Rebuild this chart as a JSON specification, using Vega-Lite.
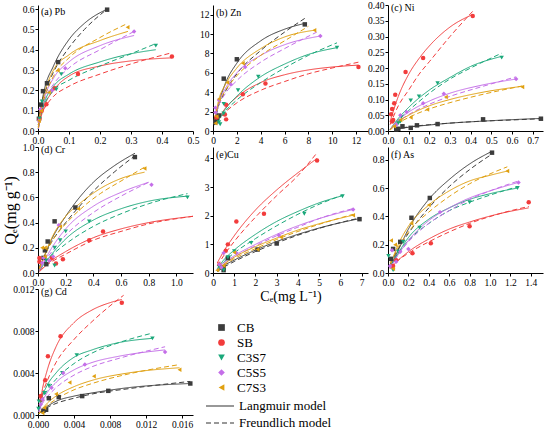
{
  "$schema": "https://vega.github.io/schema/vega-lite/v6.json",
  "padding": {"left": 2, "top": 0, "right": 2, "bottom": 2},
  "background": "white",
  "bounds": "flush",
  "columns": 3,
  "spacing": {"row": 16, "column": 20},
  "config": {
    "view": {"stroke": null},
    "font": "Liberation Serif",
    "axis": {"grid": false, "domainColor": "black", "tickColor": "black", "labelColor": "black", "labelFont": "Liberation Serif", "labelFontSize": 9.5, "tickSize": 3, "labelPadding": 1, "titleFont": "Liberation Serif", "titleFontWeight": "normal", "titleColor": "black", "labelFlush": false, "labelOverlap": false},
    "title": {"font": "Liberation Serif", "fontSize": 10, "fontWeight": "normal", "color": "black", "anchor": "start", "frame": "group", "offset": -13, "dx": 3},
    "legend": {"labelFont": "Liberation Serif", "labelFontSize": 13, "labelColor": "black", "padding": 0, "rowPadding": 2.5}
  },
  "data": {"values": [
    {"p":"a","s":"CB","m":"P","x":0.223,"y":0.597},{"p":"a","s":"CB","m":"P","x":0.065,"y":0.339},{"p":"a","s":"CB","m":"P","x":0.029,"y":0.235},{"p":"a","s":"CB","m":"P","x":0.016,"y":0.196},{"p":"a","s":"CB","m":"P","x":0.01,"y":0.13},{"p":"a","s":"CB","m":"P","x":0.003,"y":0.06},
    {"p":"a","s":"CB","m":"L","x":0.001,"y":0.02},{"p":"a","s":"CB","m":"L","x":0.01,"y":0.12},{"p":"a","s":"CB","m":"L","x":0.02,"y":0.2},{"p":"a","s":"CB","m":"L","x":0.05,"y":0.32},{"p":"a","s":"CB","m":"L","x":0.1,"y":0.45},{"p":"a","s":"CB","m":"L","x":0.15,"y":0.53},{"p":"a","s":"CB","m":"L","x":0.223,"y":0.6},
    {"p":"a","s":"CB","m":"F","x":0.001,"y":0.04},{"p":"a","s":"CB","m":"F","x":0.01,"y":0.13},{"p":"a","s":"CB","m":"F","x":0.02,"y":0.18},{"p":"a","s":"CB","m":"F","x":0.05,"y":0.29},{"p":"a","s":"CB","m":"F","x":0.1,"y":0.41},{"p":"a","s":"CB","m":"F","x":0.15,"y":0.5},{"p":"a","s":"CB","m":"F","x":0.223,"y":0.6},
    {"p":"a","s":"SB","m":"P","x":0.432,"y":0.367},{"p":"a","s":"SB","m":"P","x":0.129,"y":0.281},{"p":"a","s":"SB","m":"P","x":0.054,"y":0.21},{"p":"a","s":"SB","m":"P","x":0.027,"y":0.132},{"p":"a","s":"SB","m":"P","x":0.012,"y":0.1},{"p":"a","s":"SB","m":"P","x":0.005,"y":0.06},
    {"p":"a","s":"SB","m":"L","x":0.001,"y":0.01},{"p":"a","s":"SB","m":"L","x":0.01,"y":0.07},{"p":"a","s":"SB","m":"L","x":0.02,"y":0.12},{"p":"a","s":"SB","m":"L","x":0.05,"y":0.2},{"p":"a","s":"SB","m":"L","x":0.1,"y":0.27},{"p":"a","s":"SB","m":"L","x":0.2,"y":0.32},{"p":"a","s":"SB","m":"L","x":0.3,"y":0.345},{"p":"a","s":"SB","m":"L","x":0.432,"y":0.36},
    {"p":"a","s":"SB","m":"F","x":0.001,"y":0.03},{"p":"a","s":"SB","m":"F","x":0.01,"y":0.08},{"p":"a","s":"SB","m":"F","x":0.02,"y":0.11},{"p":"a","s":"SB","m":"F","x":0.05,"y":0.17},{"p":"a","s":"SB","m":"F","x":0.1,"y":0.22},{"p":"a","s":"SB","m":"F","x":0.2,"y":0.28},{"p":"a","s":"SB","m":"F","x":0.3,"y":0.33},{"p":"a","s":"SB","m":"F","x":0.432,"y":0.385},
    {"p":"a","s":"C3S7","m":"P","x":0.38,"y":0.42},{"p":"a","s":"C3S7","m":"P","x":0.075,"y":0.28},{"p":"a","s":"C3S7","m":"P","x":0.059,"y":0.205},{"p":"a","s":"C3S7","m":"P","x":0.013,"y":0.145},{"p":"a","s":"C3S7","m":"P","x":0.005,"y":0.06},
    {"p":"a","s":"C3S7","m":"L","x":0.001,"y":0.01},{"p":"a","s":"C3S7","m":"L","x":0.01,"y":0.09},{"p":"a","s":"C3S7","m":"L","x":0.02,"y":0.14},{"p":"a","s":"C3S7","m":"L","x":0.05,"y":0.22},{"p":"a","s":"C3S7","m":"L","x":0.1,"y":0.28},{"p":"a","s":"C3S7","m":"L","x":0.2,"y":0.34},{"p":"a","s":"C3S7","m":"L","x":0.3,"y":0.38},{"p":"a","s":"C3S7","m":"L","x":0.38,"y":0.4},
    {"p":"a","s":"C3S7","m":"F","x":0.001,"y":0.03},{"p":"a","s":"C3S7","m":"F","x":0.01,"y":0.09},{"p":"a","s":"C3S7","m":"F","x":0.02,"y":0.13},{"p":"a","s":"C3S7","m":"F","x":0.05,"y":0.2},{"p":"a","s":"C3S7","m":"F","x":0.1,"y":0.25},{"p":"a","s":"C3S7","m":"F","x":0.2,"y":0.32},{"p":"a","s":"C3S7","m":"F","x":0.3,"y":0.38},{"p":"a","s":"C3S7","m":"F","x":0.38,"y":0.43},
    {"p":"a","s":"C5S5","m":"P","x":0.31,"y":0.49},{"p":"a","s":"C5S5","m":"P","x":0.088,"y":0.309},{"p":"a","s":"C5S5","m":"P","x":0.045,"y":0.2},{"p":"a","s":"C5S5","m":"P","x":0.0075,"y":0.107},{"p":"a","s":"C5S5","m":"P","x":0.003,"y":0.05},
    {"p":"a","s":"C5S5","m":"L","x":0.001,"y":0.01},{"p":"a","s":"C5S5","m":"L","x":0.01,"y":0.1},{"p":"a","s":"C5S5","m":"L","x":0.02,"y":0.16},{"p":"a","s":"C5S5","m":"L","x":0.05,"y":0.26},{"p":"a","s":"C5S5","m":"L","x":0.1,"y":0.34},{"p":"a","s":"C5S5","m":"L","x":0.2,"y":0.42},{"p":"a","s":"C5S5","m":"L","x":0.31,"y":0.47},
    {"p":"a","s":"C5S5","m":"F","x":0.001,"y":0.03},{"p":"a","s":"C5S5","m":"F","x":0.01,"y":0.1},{"p":"a","s":"C5S5","m":"F","x":0.02,"y":0.15},{"p":"a","s":"C5S5","m":"F","x":0.05,"y":0.23},{"p":"a","s":"C5S5","m":"F","x":0.1,"y":0.31},{"p":"a","s":"C5S5","m":"F","x":0.2,"y":0.4},{"p":"a","s":"C5S5","m":"F","x":0.31,"y":0.49},
    {"p":"a","s":"C7S3","m":"P","x":0.289,"y":0.511},{"p":"a","s":"C7S3","m":"P","x":0.064,"y":0.298},{"p":"a","s":"C7S3","m":"P","x":0.035,"y":0.19},{"p":"a","s":"C7S3","m":"P","x":0.01,"y":0.1},{"p":"a","s":"C7S3","m":"P","x":0.003,"y":0.05},
    {"p":"a","s":"C7S3","m":"L","x":0.001,"y":0.015},{"p":"a","s":"C7S3","m":"L","x":0.01,"y":0.11},{"p":"a","s":"C7S3","m":"L","x":0.02,"y":0.18},{"p":"a","s":"C7S3","m":"L","x":0.05,"y":0.3},{"p":"a","s":"C7S3","m":"L","x":0.1,"y":0.375},{"p":"a","s":"C7S3","m":"L","x":0.2,"y":0.445},{"p":"a","s":"C7S3","m":"L","x":0.29,"y":0.49},
    {"p":"a","s":"C7S3","m":"F","x":0.001,"y":0.03},{"p":"a","s":"C7S3","m":"F","x":0.01,"y":0.11},{"p":"a","s":"C7S3","m":"F","x":0.02,"y":0.16},{"p":"a","s":"C7S3","m":"F","x":0.05,"y":0.27},{"p":"a","s":"C7S3","m":"F","x":0.1,"y":0.36},{"p":"a","s":"C7S3","m":"F","x":0.2,"y":0.46},{"p":"a","s":"C7S3","m":"F","x":0.29,"y":0.53},

    {"p":"b","s":"CB","m":"P","x":7.7,"y":11.0},{"p":"b","s":"CB","m":"P","x":2.0,"y":7.4},{"p":"b","s":"CB","m":"P","x":0.9,"y":5.4},{"p":"b","s":"CB","m":"P","x":0.5,"y":1.6},{"p":"b","s":"CB","m":"P","x":0.3,"y":1.2},{"p":"b","s":"CB","m":"P","x":0.2,"y":0.9},
    {"p":"b","s":"CB","m":"L","x":0.1,"y":0.6},{"p":"b","s":"CB","m":"L","x":0.5,"y":2.9},{"p":"b","s":"CB","m":"L","x":1,"y":4.8},{"p":"b","s":"CB","m":"L","x":2,"y":7.0},{"p":"b","s":"CB","m":"L","x":4,"y":9.3},{"p":"b","s":"CB","m":"L","x":6,"y":10.5},{"p":"b","s":"CB","m":"L","x":7.7,"y":11.1},
    {"p":"b","s":"CB","m":"F","x":0.1,"y":1.0},{"p":"b","s":"CB","m":"F","x":0.5,"y":2.7},{"p":"b","s":"CB","m":"F","x":1,"y":4.0},{"p":"b","s":"CB","m":"F","x":2,"y":5.9},{"p":"b","s":"CB","m":"F","x":4,"y":8.3},{"p":"b","s":"CB","m":"F","x":6,"y":10.2},{"p":"b","s":"CB","m":"F","x":7.8,"y":11.7},
    {"p":"b","s":"SB","m":"P","x":12.2,"y":6.6},{"p":"b","s":"SB","m":"P","x":4.4,"y":4.9},{"p":"b","s":"SB","m":"P","x":2.5,"y":3.8},{"p":"b","s":"SB","m":"P","x":1.1,"y":2.7},{"p":"b","s":"SB","m":"P","x":1.0,"y":1.7},{"p":"b","s":"SB","m":"P","x":1.1,"y":1.2},{"p":"b","s":"SB","m":"P","x":0.3,"y":1.4},
    {"p":"b","s":"SB","m":"L","x":0.3,"y":0.9},{"p":"b","s":"SB","m":"L","x":1,"y":2.3},{"p":"b","s":"SB","m":"L","x":2,"y":3.5},{"p":"b","s":"SB","m":"L","x":4,"y":5.0},{"p":"b","s":"SB","m":"L","x":6,"y":5.8},{"p":"b","s":"SB","m":"L","x":8,"y":6.3},{"p":"b","s":"SB","m":"L","x":10,"y":6.6},{"p":"b","s":"SB","m":"L","x":12.2,"y":6.8},
    {"p":"b","s":"SB","m":"F","x":0.3,"y":0.9},{"p":"b","s":"SB","m":"F","x":1,"y":1.9},{"p":"b","s":"SB","m":"F","x":2,"y":2.9},{"p":"b","s":"SB","m":"F","x":4,"y":4.2},{"p":"b","s":"SB","m":"F","x":6,"y":5.1},{"p":"b","s":"SB","m":"F","x":8,"y":5.9},{"p":"b","s":"SB","m":"F","x":10,"y":6.5},{"p":"b","s":"SB","m":"F","x":12.2,"y":7.1},
    {"p":"b","s":"C3S7","m":"P","x":10.4,"y":8.6},{"p":"b","s":"C3S7","m":"P","x":3.8,"y":5.6},{"p":"b","s":"C3S7","m":"P","x":2.1,"y":4.2},{"p":"b","s":"C3S7","m":"P","x":0.9,"y":2.8},{"p":"b","s":"C3S7","m":"P","x":0.9,"y":1.8},{"p":"b","s":"C3S7","m":"P","x":0.6,"y":0.7},{"p":"b","s":"C3S7","m":"P","x":0.5,"y":0.9},
    {"p":"b","s":"C3S7","m":"L","x":0.3,"y":0.8},{"p":"b","s":"C3S7","m":"L","x":1,"y":2.2},{"p":"b","s":"C3S7","m":"L","x":2,"y":3.6},{"p":"b","s":"C3S7","m":"L","x":4,"y":5.6},{"p":"b","s":"C3S7","m":"L","x":6,"y":6.9},{"p":"b","s":"C3S7","m":"L","x":8,"y":7.9},{"p":"b","s":"C3S7","m":"L","x":10.4,"y":8.6},
    {"p":"b","s":"C3S7","m":"F","x":0.3,"y":0.8},{"p":"b","s":"C3S7","m":"F","x":1,"y":2.0},{"p":"b","s":"C3S7","m":"F","x":2,"y":3.2},{"p":"b","s":"C3S7","m":"F","x":4,"y":5.0},{"p":"b","s":"C3S7","m":"F","x":6,"y":6.5},{"p":"b","s":"C3S7","m":"F","x":8,"y":7.8},{"p":"b","s":"C3S7","m":"F","x":10.4,"y":9.1},
    {"p":"b","s":"C5S5","m":"P","x":9.0,"y":9.8},{"p":"b","s":"C5S5","m":"P","x":2.7,"y":6.6},{"p":"b","s":"C5S5","m":"P","x":1.5,"y":4.8},{"p":"b","s":"C5S5","m":"P","x":0.2,"y":2.4},{"p":"b","s":"C5S5","m":"P","x":0.2,"y":1.9},{"p":"b","s":"C5S5","m":"P","x":0.5,"y":3.2},
    {"p":"b","s":"C5S5","m":"L","x":0.1,"y":0.9},{"p":"b","s":"C5S5","m":"L","x":0.5,"y":3.0},{"p":"b","s":"C5S5","m":"L","x":1,"y":4.3},{"p":"b","s":"C5S5","m":"L","x":2,"y":6.0},{"p":"b","s":"C5S5","m":"L","x":4,"y":7.8},{"p":"b","s":"C5S5","m":"L","x":6,"y":8.9},{"p":"b","s":"C5S5","m":"L","x":9,"y":9.8},
    {"p":"b","s":"C5S5","m":"F","x":0.1,"y":1.1},{"p":"b","s":"C5S5","m":"F","x":0.5,"y":2.7},{"p":"b","s":"C5S5","m":"F","x":1,"y":3.8},{"p":"b","s":"C5S5","m":"F","x":2,"y":5.2},{"p":"b","s":"C5S5","m":"F","x":4,"y":7.1},{"p":"b","s":"C5S5","m":"F","x":6,"y":8.5},{"p":"b","s":"C5S5","m":"F","x":8.7,"y":10.2},
    {"p":"b","s":"C7S3","m":"P","x":8.5,"y":10.4},{"p":"b","s":"C7S3","m":"P","x":2.5,"y":7.0},{"p":"b","s":"C7S3","m":"P","x":1.2,"y":5.0},{"p":"b","s":"C7S3","m":"P","x":0.5,"y":3.3},{"p":"b","s":"C7S3","m":"P","x":0.3,"y":1.5},{"p":"b","s":"C7S3","m":"P","x":0.2,"y":0.8},
    {"p":"b","s":"C7S3","m":"L","x":0.1,"y":0.9},{"p":"b","s":"C7S3","m":"L","x":0.5,"y":3.3},{"p":"b","s":"C7S3","m":"L","x":1,"y":4.7},{"p":"b","s":"C7S3","m":"L","x":2,"y":6.5},{"p":"b","s":"C7S3","m":"L","x":4,"y":8.5},{"p":"b","s":"C7S3","m":"L","x":6,"y":9.7},{"p":"b","s":"C7S3","m":"L","x":8.5,"y":10.4},
    {"p":"b","s":"C7S3","m":"F","x":0.1,"y":1.2},{"p":"b","s":"C7S3","m":"F","x":0.5,"y":2.9},{"p":"b","s":"C7S3","m":"F","x":1,"y":4.1},{"p":"b","s":"C7S3","m":"F","x":2,"y":5.7},{"p":"b","s":"C7S3","m":"F","x":4,"y":7.8},{"p":"b","s":"C7S3","m":"F","x":6,"y":9.3},{"p":"b","s":"C7S3","m":"F","x":8,"y":10.8},

    {"p":"c","s":"CB","m":"P","x":0.74,"y":0.039},{"p":"c","s":"CB","m":"P","x":0.46,"y":0.037},{"p":"c","s":"CB","m":"P","x":0.24,"y":0.022},{"p":"c","s":"CB","m":"P","x":0.14,"y":0.018},{"p":"c","s":"CB","m":"P","x":0.11,"y":0.01},{"p":"c","s":"CB","m":"P","x":0.07,"y":0.015},{"p":"c","s":"CB","m":"P","x":0.05,"y":0.007},{"p":"c","s":"CB","m":"P","x":0.04,"y":0.005},
    {"p":"c","s":"CB","m":"L","x":0.03,"y":0.004},{"p":"c","s":"CB","m":"L","x":0.1,"y":0.012},{"p":"c","s":"CB","m":"L","x":0.2,"y":0.019},{"p":"c","s":"CB","m":"L","x":0.3,"y":0.025},{"p":"c","s":"CB","m":"L","x":0.45,"y":0.031},{"p":"c","s":"CB","m":"L","x":0.6,"y":0.036},{"p":"c","s":"CB","m":"L","x":0.74,"y":0.04},
    {"p":"c","s":"CB","m":"F","x":0.03,"y":0.006},{"p":"c","s":"CB","m":"F","x":0.1,"y":0.013},{"p":"c","s":"CB","m":"F","x":0.2,"y":0.02},{"p":"c","s":"CB","m":"F","x":0.3,"y":0.025},{"p":"c","s":"CB","m":"F","x":0.45,"y":0.031},{"p":"c","s":"CB","m":"F","x":0.6,"y":0.035},{"p":"c","s":"CB","m":"F","x":0.74,"y":0.039},
    {"p":"c","s":"SB","m":"P","x":0.41,"y":0.365},{"p":"c","s":"SB","m":"P","x":0.17,"y":0.232},{"p":"c","s":"SB","m":"P","x":0.085,"y":0.187},{"p":"c","s":"SB","m":"P","x":0.035,"y":0.115},{"p":"c","s":"SB","m":"P","x":0.03,"y":0.088},{"p":"c","s":"SB","m":"P","x":0.02,"y":0.07},{"p":"c","s":"SB","m":"P","x":0.015,"y":0.053},{"p":"c","s":"SB","m":"P","x":0.02,"y":0.03},{"p":"c","s":"SB","m":"P","x":0.025,"y":0.035},
    {"p":"c","s":"SB","m":"L","x":0.01,"y":0.03},{"p":"c","s":"SB","m":"L","x":0.05,"y":0.11},{"p":"c","s":"SB","m":"L","x":0.1,"y":0.18},{"p":"c","s":"SB","m":"L","x":0.15,"y":0.23},{"p":"c","s":"SB","m":"L","x":0.2,"y":0.27},{"p":"c","s":"SB","m":"L","x":0.3,"y":0.33},{"p":"c","s":"SB","m":"L","x":0.41,"y":0.37},
    {"p":"c","s":"SB","m":"F","x":0.01,"y":0.02},{"p":"c","s":"SB","m":"F","x":0.05,"y":0.08},{"p":"c","s":"SB","m":"F","x":0.1,"y":0.13},{"p":"c","s":"SB","m":"F","x":0.15,"y":0.18},{"p":"c","s":"SB","m":"F","x":0.2,"y":0.22},{"p":"c","s":"SB","m":"F","x":0.3,"y":0.3},{"p":"c","s":"SB","m":"F","x":0.41,"y":0.38},
    {"p":"c","s":"C3S7","m":"P","x":0.55,"y":0.233},{"p":"c","s":"C3S7","m":"P","x":0.24,"y":0.152},{"p":"c","s":"C3S7","m":"P","x":0.15,"y":0.11},{"p":"c","s":"C3S7","m":"P","x":0.11,"y":0.097},{"p":"c","s":"C3S7","m":"P","x":0.065,"y":0.045},{"p":"c","s":"C3S7","m":"P","x":0.05,"y":0.025},{"p":"c","s":"C3S7","m":"P","x":0.06,"y":0.03},
    {"p":"c","s":"C3S7","m":"L","x":0.01,"y":0.005},{"p":"c","s":"C3S7","m":"L","x":0.05,"y":0.04},{"p":"c","s":"C3S7","m":"L","x":0.1,"y":0.075},{"p":"c","s":"C3S7","m":"L","x":0.2,"y":0.13},{"p":"c","s":"C3S7","m":"L","x":0.3,"y":0.17},{"p":"c","s":"C3S7","m":"L","x":0.4,"y":0.205},{"p":"c","s":"C3S7","m":"L","x":0.55,"y":0.237},
    {"p":"c","s":"C3S7","m":"F","x":0.01,"y":0.005},{"p":"c","s":"C3S7","m":"F","x":0.05,"y":0.035},{"p":"c","s":"C3S7","m":"F","x":0.1,"y":0.065},{"p":"c","s":"C3S7","m":"F","x":0.2,"y":0.12},{"p":"c","s":"C3S7","m":"F","x":0.3,"y":0.165},{"p":"c","s":"C3S7","m":"F","x":0.4,"y":0.2},{"p":"c","s":"C3S7","m":"F","x":0.55,"y":0.247},
    {"p":"c","s":"C5S5","m":"P","x":0.62,"y":0.165},{"p":"c","s":"C5S5","m":"P","x":0.27,"y":0.118},{"p":"c","s":"C5S5","m":"P","x":0.17,"y":0.088},{"p":"c","s":"C5S5","m":"P","x":0.06,"y":0.05},{"p":"c","s":"C5S5","m":"P","x":0.09,"y":0.06},{"p":"c","s":"C5S5","m":"P","x":0.04,"y":0.02},
    {"p":"c","s":"C5S5","m":"L","x":0.01,"y":0.005},{"p":"c","s":"C5S5","m":"L","x":0.05,"y":0.035},{"p":"c","s":"C5S5","m":"L","x":0.1,"y":0.06},{"p":"c","s":"C5S5","m":"L","x":0.2,"y":0.095},{"p":"c","s":"C5S5","m":"L","x":0.3,"y":0.12},{"p":"c","s":"C5S5","m":"L","x":0.45,"y":0.145},{"p":"c","s":"C5S5","m":"L","x":0.62,"y":0.165},
    {"p":"c","s":"C5S5","m":"F","x":0.01,"y":0.004},{"p":"c","s":"C5S5","m":"F","x":0.05,"y":0.03},{"p":"c","s":"C5S5","m":"F","x":0.1,"y":0.052},{"p":"c","s":"C5S5","m":"F","x":0.2,"y":0.085},{"p":"c","s":"C5S5","m":"F","x":0.3,"y":0.11},{"p":"c","s":"C5S5","m":"F","x":0.45,"y":0.14},{"p":"c","s":"C5S5","m":"F","x":0.62,"y":0.172},
    {"p":"c","s":"C7S3","m":"P","x":0.65,"y":0.14},{"p":"c","s":"C7S3","m":"P","x":0.28,"y":0.108},{"p":"c","s":"C7S3","m":"P","x":0.19,"y":0.068},{"p":"c","s":"C7S3","m":"P","x":0.11,"y":0.043},{"p":"c","s":"C7S3","m":"P","x":0.06,"y":0.035},{"p":"c","s":"C7S3","m":"P","x":0.03,"y":0.015},
    {"p":"c","s":"C7S3","m":"L","x":0.01,"y":0.004},{"p":"c","s":"C7S3","m":"L","x":0.05,"y":0.03},{"p":"c","s":"C7S3","m":"L","x":0.1,"y":0.05},{"p":"c","s":"C7S3","m":"L","x":0.2,"y":0.08},{"p":"c","s":"C7S3","m":"L","x":0.3,"y":0.1},{"p":"c","s":"C7S3","m":"L","x":0.45,"y":0.122},{"p":"c","s":"C7S3","m":"L","x":0.65,"y":0.142},
    {"p":"c","s":"C7S3","m":"F","x":0.01,"y":0.003},{"p":"c","s":"C7S3","m":"F","x":0.05,"y":0.025},{"p":"c","s":"C7S3","m":"F","x":0.1,"y":0.043},{"p":"c","s":"C7S3","m":"F","x":0.2,"y":0.07},{"p":"c","s":"C7S3","m":"F","x":0.3,"y":0.09},{"p":"c","s":"C7S3","m":"F","x":0.45,"y":0.115},{"p":"c","s":"C7S3","m":"F","x":0.65,"y":0.143},

    {"p":"d","s":"CB","m":"P","x":0.7,"y":0.92},{"p":"d","s":"CB","m":"P","x":0.27,"y":0.52},{"p":"d","s":"CB","m":"P","x":0.12,"y":0.41},{"p":"d","s":"CB","m":"P","x":0.07,"y":0.25},{"p":"d","s":"CB","m":"P","x":0.05,"y":0.18},{"p":"d","s":"CB","m":"P","x":0.04,"y":0.12},{"p":"d","s":"CB","m":"P","x":0.06,"y":0.07},
    {"p":"d","s":"CB","m":"L","x":0.01,"y":0.03},{"p":"d","s":"CB","m":"L","x":0.1,"y":0.27},{"p":"d","s":"CB","m":"L","x":0.2,"y":0.45},{"p":"d","s":"CB","m":"L","x":0.3,"y":0.6},{"p":"d","s":"CB","m":"L","x":0.4,"y":0.72},{"p":"d","s":"CB","m":"L","x":0.55,"y":0.85},{"p":"d","s":"CB","m":"L","x":0.7,"y":0.95},
    {"p":"d","s":"CB","m":"F","x":0.01,"y":0.05},{"p":"d","s":"CB","m":"F","x":0.1,"y":0.25},{"p":"d","s":"CB","m":"F","x":0.2,"y":0.4},{"p":"d","s":"CB","m":"F","x":0.3,"y":0.53},{"p":"d","s":"CB","m":"F","x":0.4,"y":0.65},{"p":"d","s":"CB","m":"F","x":0.55,"y":0.8},{"p":"d","s":"CB","m":"F","x":0.7,"y":0.93},
    {"p":"d","s":"SB","m":"P","x":0.47,"y":0.33},{"p":"d","s":"SB","m":"P","x":0.37,"y":0.26},{"p":"d","s":"SB","m":"P","x":0.18,"y":0.11},{"p":"d","s":"SB","m":"P","x":0.13,"y":0.075},{"p":"d","s":"SB","m":"P","x":0.1,"y":0.12},{"p":"d","s":"SB","m":"P","x":0.01,"y":0.12},{"p":"d","s":"SB","m":"P","x":0.01,"y":0.09},
    {"p":"d","s":"SB","m":"L","x":0.01,"y":0.01},{"p":"d","s":"SB","m":"L","x":0.1,"y":0.1},{"p":"d","s":"SB","m":"L","x":0.2,"y":0.17},{"p":"d","s":"SB","m":"L","x":0.4,"y":0.28},{"p":"d","s":"SB","m":"L","x":0.6,"y":0.35},{"p":"d","s":"SB","m":"L","x":0.8,"y":0.4},{"p":"d","s":"SB","m":"L","x":1.12,"y":0.45},
    {"p":"d","s":"SB","m":"F","x":0.01,"y":0.02},{"p":"d","s":"SB","m":"F","x":0.1,"y":0.09},{"p":"d","s":"SB","m":"F","x":0.2,"y":0.15},{"p":"d","s":"SB","m":"F","x":0.4,"y":0.26},{"p":"d","s":"SB","m":"F","x":0.6,"y":0.33},{"p":"d","s":"SB","m":"F","x":0.8,"y":0.39},{"p":"d","s":"SB","m":"F","x":1.12,"y":0.45},
    {"p":"d","s":"C3S7","m":"P","x":1.08,"y":0.6},{"p":"d","s":"C3S7","m":"P","x":0.37,"y":0.41},{"p":"d","s":"C3S7","m":"P","x":0.2,"y":0.33},{"p":"d","s":"C3S7","m":"P","x":0.16,"y":0.26},{"p":"d","s":"C3S7","m":"P","x":0.12,"y":0.2},{"p":"d","s":"C3S7","m":"P","x":0.12,"y":0.06},{"p":"d","s":"C3S7","m":"P","x":0.06,"y":0.1},
    {"p":"d","s":"C3S7","m":"L","x":0.01,"y":0.02},{"p":"d","s":"C3S7","m":"L","x":0.1,"y":0.15},{"p":"d","s":"C3S7","m":"L","x":0.2,"y":0.27},{"p":"d","s":"C3S7","m":"L","x":0.4,"y":0.42},{"p":"d","s":"C3S7","m":"L","x":0.6,"y":0.51},{"p":"d","s":"C3S7","m":"L","x":0.8,"y":0.57},{"p":"d","s":"C3S7","m":"L","x":1.08,"y":0.61},
    {"p":"d","s":"C3S7","m":"F","x":0.01,"y":0.03},{"p":"d","s":"C3S7","m":"F","x":0.1,"y":0.14},{"p":"d","s":"C3S7","m":"F","x":0.2,"y":0.23},{"p":"d","s":"C3S7","m":"F","x":0.4,"y":0.37},{"p":"d","s":"C3S7","m":"F","x":0.6,"y":0.47},{"p":"d","s":"C3S7","m":"F","x":0.8,"y":0.55},{"p":"d","s":"C3S7","m":"F","x":1.08,"y":0.63},
    {"p":"d","s":"C5S5","m":"P","x":0.82,"y":0.7},{"p":"d","s":"C5S5","m":"P","x":0.15,"y":0.38},{"p":"d","s":"C5S5","m":"P","x":0.11,"y":0.13},{"p":"d","s":"C5S5","m":"P","x":0.08,"y":0.1},{"p":"d","s":"C5S5","m":"P","x":0.04,"y":0.12},{"p":"d","s":"C5S5","m":"P","x":0.03,"y":0.08},
    {"p":"d","s":"C5S5","m":"L","x":0.01,"y":0.02},{"p":"d","s":"C5S5","m":"L","x":0.1,"y":0.2},{"p":"d","s":"C5S5","m":"L","x":0.2,"y":0.35},{"p":"d","s":"C5S5","m":"L","x":0.4,"y":0.53},{"p":"d","s":"C5S5","m":"L","x":0.6,"y":0.64},{"p":"d","s":"C5S5","m":"L","x":0.8,"y":0.72},
    {"p":"d","s":"C5S5","m":"F","x":0.01,"y":0.03},{"p":"d","s":"C5S5","m":"F","x":0.1,"y":0.17},{"p":"d","s":"C5S5","m":"F","x":0.2,"y":0.3},{"p":"d","s":"C5S5","m":"F","x":0.4,"y":0.48},{"p":"d","s":"C5S5","m":"F","x":0.6,"y":0.61},{"p":"d","s":"C5S5","m":"F","x":0.8,"y":0.72},
    {"p":"d","s":"C7S3","m":"P","x":0.77,"y":0.83},{"p":"d","s":"C7S3","m":"P","x":0.29,"y":0.51},{"p":"d","s":"C7S3","m":"P","x":0.16,"y":0.37},{"p":"d","s":"C7S3","m":"P","x":0.05,"y":0.2},{"p":"d","s":"C7S3","m":"P","x":0.03,"y":0.2},{"p":"d","s":"C7S3","m":"P","x":0.05,"y":0.13},
    {"p":"d","s":"C7S3","m":"L","x":0.01,"y":0.03},{"p":"d","s":"C7S3","m":"L","x":0.1,"y":0.28},{"p":"d","s":"C7S3","m":"L","x":0.2,"y":0.45},{"p":"d","s":"C7S3","m":"L","x":0.3,"y":0.55},{"p":"d","s":"C7S3","m":"L","x":0.45,"y":0.67},{"p":"d","s":"C7S3","m":"L","x":0.6,"y":0.75},{"p":"d","s":"C7S3","m":"L","x":0.77,"y":0.8},
    {"p":"d","s":"C7S3","m":"F","x":0.01,"y":0.04},{"p":"d","s":"C7S3","m":"F","x":0.1,"y":0.25},{"p":"d","s":"C7S3","m":"F","x":0.2,"y":0.39},{"p":"d","s":"C7S3","m":"F","x":0.3,"y":0.5},{"p":"d","s":"C7S3","m":"F","x":0.45,"y":0.63},{"p":"d","s":"C7S3","m":"F","x":0.6,"y":0.73},{"p":"d","s":"C7S3","m":"F","x":0.77,"y":0.84},

    {"p":"e","s":"CB","m":"P","x":6.9,"y":1.88},{"p":"e","s":"CB","m":"P","x":3.0,"y":1.03},{"p":"e","s":"CB","m":"P","x":2.1,"y":0.82},{"p":"e","s":"CB","m":"P","x":0.7,"y":0.52},{"p":"e","s":"CB","m":"P","x":0.5,"y":0.1},{"p":"e","s":"CB","m":"P","x":0.5,"y":0.2},
    {"p":"e","s":"CB","m":"L","x":0.2,"y":0.08},{"p":"e","s":"CB","m":"L","x":0.5,"y":0.25},{"p":"e","s":"CB","m":"L","x":1,"y":0.45},{"p":"e","s":"CB","m":"L","x":2,"y":0.8},{"p":"e","s":"CB","m":"L","x":3,"y":1.1},{"p":"e","s":"CB","m":"L","x":4,"y":1.35},{"p":"e","s":"CB","m":"L","x":5,"y":1.57},{"p":"e","s":"CB","m":"L","x":6.9,"y":1.9},
    {"p":"e","s":"CB","m":"F","x":0.2,"y":0.05},{"p":"e","s":"CB","m":"F","x":0.5,"y":0.2},{"p":"e","s":"CB","m":"F","x":1,"y":0.4},{"p":"e","s":"CB","m":"F","x":2,"y":0.75},{"p":"e","s":"CB","m":"F","x":3,"y":1.05},{"p":"e","s":"CB","m":"F","x":4,"y":1.32},{"p":"e","s":"CB","m":"F","x":5,"y":1.56},{"p":"e","s":"CB","m":"F","x":6.9,"y":1.92},
    {"p":"e","s":"SB","m":"P","x":4.9,"y":3.93},{"p":"e","s":"SB","m":"P","x":2.4,"y":2.07},{"p":"e","s":"SB","m":"P","x":1.1,"y":1.8},{"p":"e","s":"SB","m":"P","x":0.7,"y":1.0},{"p":"e","s":"SB","m":"P","x":0.6,"y":0.78},{"p":"e","s":"SB","m":"P","x":0.3,"y":0.3},
    {"p":"e","s":"SB","m":"L","x":0.2,"y":0.35},{"p":"e","s":"SB","m":"L","x":0.5,"y":0.75},{"p":"e","s":"SB","m":"L","x":1,"y":1.3},{"p":"e","s":"SB","m":"L","x":2,"y":2.2},{"p":"e","s":"SB","m":"L","x":3,"y":2.9},{"p":"e","s":"SB","m":"L","x":4,"y":3.5},{"p":"e","s":"SB","m":"L","x":4.9,"y":4.0},
    {"p":"e","s":"SB","m":"F","x":0.2,"y":0.25},{"p":"e","s":"SB","m":"F","x":0.5,"y":0.6},{"p":"e","s":"SB","m":"F","x":1,"y":1.1},{"p":"e","s":"SB","m":"F","x":2,"y":1.95},{"p":"e","s":"SB","m":"F","x":3,"y":2.7},{"p":"e","s":"SB","m":"F","x":4,"y":3.4},{"p":"e","s":"SB","m":"F","x":4.9,"y":4.2},
    {"p":"e","s":"C3S7","m":"P","x":6.1,"y":2.68},{"p":"e","s":"C3S7","m":"P","x":4.3,"y":2.07},{"p":"e","s":"C3S7","m":"P","x":1.8,"y":1.05},{"p":"e","s":"C3S7","m":"P","x":1.0,"y":0.76},{"p":"e","s":"C3S7","m":"P","x":0.7,"y":0.55},{"p":"e","s":"C3S7","m":"P","x":0.3,"y":0.2},{"p":"e","s":"C3S7","m":"P","x":0.5,"y":0.1},
    {"p":"e","s":"C3S7","m":"L","x":0.2,"y":0.15},{"p":"e","s":"C3S7","m":"L","x":0.5,"y":0.45},{"p":"e","s":"C3S7","m":"L","x":1,"y":0.8},{"p":"e","s":"C3S7","m":"L","x":2,"y":1.35},{"p":"e","s":"C3S7","m":"L","x":3,"y":1.8},{"p":"e","s":"C3S7","m":"L","x":4,"y":2.15},{"p":"e","s":"C3S7","m":"L","x":5,"y":2.45},{"p":"e","s":"C3S7","m":"L","x":6.1,"y":2.7},
    {"p":"e","s":"C3S7","m":"F","x":0.2,"y":0.12},{"p":"e","s":"C3S7","m":"F","x":0.5,"y":0.38},{"p":"e","s":"C3S7","m":"F","x":1,"y":0.7},{"p":"e","s":"C3S7","m":"F","x":2,"y":1.2},{"p":"e","s":"C3S7","m":"F","x":3,"y":1.65},{"p":"e","s":"C3S7","m":"F","x":4,"y":2.05},{"p":"e","s":"C3S7","m":"F","x":5,"y":2.4},{"p":"e","s":"C3S7","m":"F","x":6.1,"y":2.72},
    {"p":"e","s":"C5S5","m":"P","x":6.6,"y":2.22},{"p":"e","s":"C5S5","m":"P","x":3.1,"y":1.32},{"p":"e","s":"C5S5","m":"P","x":1.1,"y":0.7},{"p":"e","s":"C5S5","m":"P","x":0.5,"y":0.7},{"p":"e","s":"C5S5","m":"P","x":0.3,"y":0.3},{"p":"e","s":"C5S5","m":"P","x":0.4,"y":0.2},
    {"p":"e","s":"C5S5","m":"L","x":0.2,"y":0.12},{"p":"e","s":"C5S5","m":"L","x":0.5,"y":0.35},{"p":"e","s":"C5S5","m":"L","x":1,"y":0.6},{"p":"e","s":"C5S5","m":"L","x":2,"y":1.0},{"p":"e","s":"C5S5","m":"L","x":3,"y":1.35},{"p":"e","s":"C5S5","m":"L","x":4,"y":1.65},{"p":"e","s":"C5S5","m":"L","x":5,"y":1.9},{"p":"e","s":"C5S5","m":"L","x":6.6,"y":2.22},
    {"p":"e","s":"C5S5","m":"F","x":0.2,"y":0.1},{"p":"e","s":"C5S5","m":"F","x":0.5,"y":0.3},{"p":"e","s":"C5S5","m":"F","x":1,"y":0.55},{"p":"e","s":"C5S5","m":"F","x":2,"y":0.95},{"p":"e","s":"C5S5","m":"F","x":3,"y":1.3},{"p":"e","s":"C5S5","m":"F","x":4,"y":1.6},{"p":"e","s":"C5S5","m":"F","x":5,"y":1.9},{"p":"e","s":"C5S5","m":"F","x":6.6,"y":2.25},
    {"p":"e","s":"C7S3","m":"P","x":6.6,"y":2.02},{"p":"e","s":"C7S3","m":"P","x":3.2,"y":1.25},{"p":"e","s":"C7S3","m":"P","x":2.1,"y":0.82},{"p":"e","s":"C7S3","m":"P","x":1.0,"y":0.72},{"p":"e","s":"C7S3","m":"P","x":0.5,"y":0.25},{"p":"e","s":"C7S3","m":"P","x":0.2,"y":0.1},
    {"p":"e","s":"C7S3","m":"L","x":0.2,"y":0.1},{"p":"e","s":"C7S3","m":"L","x":0.5,"y":0.3},{"p":"e","s":"C7S3","m":"L","x":1,"y":0.55},{"p":"e","s":"C7S3","m":"L","x":2,"y":0.92},{"p":"e","s":"C7S3","m":"L","x":3,"y":1.22},{"p":"e","s":"C7S3","m":"L","x":4,"y":1.5},{"p":"e","s":"C7S3","m":"L","x":5,"y":1.72},{"p":"e","s":"C7S3","m":"L","x":6.6,"y":2.02},
    {"p":"e","s":"C7S3","m":"F","x":0.2,"y":0.08},{"p":"e","s":"C7S3","m":"F","x":0.5,"y":0.26},{"p":"e","s":"C7S3","m":"F","x":1,"y":0.5},{"p":"e","s":"C7S3","m":"F","x":2,"y":0.85},{"p":"e","s":"C7S3","m":"F","x":3,"y":1.17},{"p":"e","s":"C7S3","m":"F","x":4,"y":1.45},{"p":"e","s":"C7S3","m":"F","x":5,"y":1.7},{"p":"e","s":"C7S3","m":"F","x":6.6,"y":2.05},

    {"p":"f","s":"CB","m":"P","x":1.02,"y":0.85},{"p":"f","s":"CB","m":"P","x":0.41,"y":0.53},{"p":"f","s":"CB","m":"P","x":0.23,"y":0.39},{"p":"f","s":"CB","m":"P","x":0.12,"y":0.22},{"p":"f","s":"CB","m":"P","x":0.05,"y":0.17},{"p":"f","s":"CB","m":"P","x":0.03,"y":0.1},
    {"p":"f","s":"CB","m":"L","x":0.02,"y":0.04},{"p":"f","s":"CB","m":"L","x":0.1,"y":0.16},{"p":"f","s":"CB","m":"L","x":0.2,"y":0.31},{"p":"f","s":"CB","m":"L","x":0.4,"y":0.52},{"p":"f","s":"CB","m":"L","x":0.6,"y":0.66},{"p":"f","s":"CB","m":"L","x":0.8,"y":0.77},{"p":"f","s":"CB","m":"L","x":1.02,"y":0.86},
    {"p":"f","s":"CB","m":"F","x":0.02,"y":0.06},{"p":"f","s":"CB","m":"F","x":0.1,"y":0.17},{"p":"f","s":"CB","m":"F","x":0.2,"y":0.28},{"p":"f","s":"CB","m":"F","x":0.4,"y":0.46},{"p":"f","s":"CB","m":"F","x":0.6,"y":0.61},{"p":"f","s":"CB","m":"F","x":0.8,"y":0.73},{"p":"f","s":"CB","m":"F","x":1.02,"y":0.84},
    {"p":"f","s":"SB","m":"P","x":1.38,"y":0.5},{"p":"f","s":"SB","m":"P","x":0.8,"y":0.33},{"p":"f","s":"SB","m":"P","x":0.42,"y":0.21},{"p":"f","s":"SB","m":"P","x":0.24,"y":0.14},{"p":"f","s":"SB","m":"P","x":0.08,"y":0.09},{"p":"f","s":"SB","m":"P","x":0.05,"y":0.05},
    {"p":"f","s":"SB","m":"L","x":0.02,"y":0.03},{"p":"f","s":"SB","m":"L","x":0.1,"y":0.09},{"p":"f","s":"SB","m":"L","x":0.2,"y":0.15},{"p":"f","s":"SB","m":"L","x":0.4,"y":0.24},{"p":"f","s":"SB","m":"L","x":0.6,"y":0.31},{"p":"f","s":"SB","m":"L","x":0.8,"y":0.36},{"p":"f","s":"SB","m":"L","x":1.1,"y":0.42},{"p":"f","s":"SB","m":"L","x":1.38,"y":0.46},
    {"p":"f","s":"SB","m":"F","x":0.02,"y":0.04},{"p":"f","s":"SB","m":"F","x":0.1,"y":0.09},{"p":"f","s":"SB","m":"F","x":0.2,"y":0.14},{"p":"f","s":"SB","m":"F","x":0.4,"y":0.22},{"p":"f","s":"SB","m":"F","x":0.6,"y":0.29},{"p":"f","s":"SB","m":"F","x":0.8,"y":0.35},{"p":"f","s":"SB","m":"F","x":1.1,"y":0.42},{"p":"f","s":"SB","m":"F","x":1.38,"y":0.47},
    {"p":"f","s":"C3S7","m":"P","x":1.27,"y":0.6},{"p":"f","s":"C3S7","m":"P","x":0.8,"y":0.5},{"p":"f","s":"C3S7","m":"P","x":0.31,"y":0.32},{"p":"f","s":"C3S7","m":"P","x":0.15,"y":0.22},{"p":"f","s":"C3S7","m":"P","x":0.1,"y":0.15},{"p":"f","s":"C3S7","m":"P","x":0.005,"y":0.12},{"p":"f","s":"C3S7","m":"P","x":0.05,"y":0.02},
    {"p":"f","s":"C3S7","m":"L","x":0.02,"y":0.04},{"p":"f","s":"C3S7","m":"L","x":0.1,"y":0.14},{"p":"f","s":"C3S7","m":"L","x":0.2,"y":0.25},{"p":"f","s":"C3S7","m":"L","x":0.4,"y":0.38},{"p":"f","s":"C3S7","m":"L","x":0.6,"y":0.46},{"p":"f","s":"C3S7","m":"L","x":0.8,"y":0.52},{"p":"f","s":"C3S7","m":"L","x":1.0,"y":0.56},{"p":"f","s":"C3S7","m":"L","x":1.27,"y":0.6},
    {"p":"f","s":"C3S7","m":"F","x":0.02,"y":0.05},{"p":"f","s":"C3S7","m":"F","x":0.1,"y":0.14},{"p":"f","s":"C3S7","m":"F","x":0.2,"y":0.23},{"p":"f","s":"C3S7","m":"F","x":0.4,"y":0.35},{"p":"f","s":"C3S7","m":"F","x":0.6,"y":0.44},{"p":"f","s":"C3S7","m":"F","x":0.8,"y":0.5},{"p":"f","s":"C3S7","m":"F","x":1.0,"y":0.55},{"p":"f","s":"C3S7","m":"F","x":1.27,"y":0.61},
    {"p":"f","s":"C5S5","m":"P","x":1.28,"y":0.64},{"p":"f","s":"C5S5","m":"P","x":0.51,"y":0.43},{"p":"f","s":"C5S5","m":"P","x":0.2,"y":0.17},{"p":"f","s":"C5S5","m":"P","x":0.12,"y":0.15},{"p":"f","s":"C5S5","m":"P","x":0.08,"y":0.08},{"p":"f","s":"C5S5","m":"P","x":0.04,"y":0.16},{"p":"f","s":"C5S5","m":"P","x":0.02,"y":0.05},
    {"p":"f","s":"C5S5","m":"L","x":0.02,"y":0.03},{"p":"f","s":"C5S5","m":"L","x":0.1,"y":0.13},{"p":"f","s":"C5S5","m":"L","x":0.2,"y":0.23},{"p":"f","s":"C5S5","m":"L","x":0.4,"y":0.37},{"p":"f","s":"C5S5","m":"L","x":0.6,"y":0.46},{"p":"f","s":"C5S5","m":"L","x":0.8,"y":0.53},{"p":"f","s":"C5S5","m":"L","x":1.0,"y":0.58},{"p":"f","s":"C5S5","m":"L","x":1.28,"y":0.64},
    {"p":"f","s":"C5S5","m":"F","x":0.02,"y":0.04},{"p":"f","s":"C5S5","m":"F","x":0.1,"y":0.13},{"p":"f","s":"C5S5","m":"F","x":0.2,"y":0.22},{"p":"f","s":"C5S5","m":"F","x":0.4,"y":0.35},{"p":"f","s":"C5S5","m":"F","x":0.6,"y":0.44},{"p":"f","s":"C5S5","m":"F","x":0.8,"y":0.52},{"p":"f","s":"C5S5","m":"F","x":1.0,"y":0.58},{"p":"f","s":"C5S5","m":"F","x":1.28,"y":0.65},
    {"p":"f","s":"C7S3","m":"P","x":1.17,"y":0.72},{"p":"f","s":"C7S3","m":"P","x":0.4,"y":0.48},{"p":"f","s":"C7S3","m":"P","x":0.23,"y":0.35},{"p":"f","s":"C7S3","m":"P","x":0.07,"y":0.2},{"p":"f","s":"C7S3","m":"P","x":0.03,"y":0.23},{"p":"f","s":"C7S3","m":"P","x":0.05,"y":0.03},
    {"p":"f","s":"C7S3","m":"L","x":0.02,"y":0.05},{"p":"f","s":"C7S3","m":"L","x":0.1,"y":0.2},{"p":"f","s":"C7S3","m":"L","x":0.2,"y":0.33},{"p":"f","s":"C7S3","m":"L","x":0.4,"y":0.48},{"p":"f","s":"C7S3","m":"L","x":0.6,"y":0.58},{"p":"f","s":"C7S3","m":"L","x":0.8,"y":0.65},{"p":"f","s":"C7S3","m":"L","x":1.0,"y":0.69},{"p":"f","s":"C7S3","m":"L","x":1.17,"y":0.72},
    {"p":"f","s":"C7S3","m":"F","x":0.02,"y":0.07},{"p":"f","s":"C7S3","m":"F","x":0.1,"y":0.18},{"p":"f","s":"C7S3","m":"F","x":0.2,"y":0.29},{"p":"f","s":"C7S3","m":"F","x":0.4,"y":0.43},{"p":"f","s":"C7S3","m":"F","x":0.6,"y":0.54},{"p":"f","s":"C7S3","m":"F","x":0.8,"y":0.63},{"p":"f","s":"C7S3","m":"F","x":1.0,"y":0.7},{"p":"f","s":"C7S3","m":"F","x":1.17,"y":0.75},

    {"p":"g","s":"CB","m":"P","x":0.0169,"y":0.003},{"p":"g","s":"CB","m":"P","x":0.0078,"y":0.0023},{"p":"g","s":"CB","m":"P","x":0.0049,"y":0.0018},{"p":"g","s":"CB","m":"P","x":0.0023,"y":0.0017},{"p":"g","s":"CB","m":"P","x":0.0012,"y":0.0016},{"p":"g","s":"CB","m":"P","x":0.0009,"y":0.0005},{"p":"g","s":"CB","m":"P","x":0.0006,"y":0.0004},
    {"p":"g","s":"CB","m":"L","x":0.0002,"y":0.0002},{"p":"g","s":"CB","m":"L","x":0.001,"y":0.0008},{"p":"g","s":"CB","m":"L","x":0.002,"y":0.0013},{"p":"g","s":"CB","m":"L","x":0.004,"y":0.0018},{"p":"g","s":"CB","m":"L","x":0.006,"y":0.0021},{"p":"g","s":"CB","m":"L","x":0.01,"y":0.0026},{"p":"g","s":"CB","m":"L","x":0.0169,"y":0.003},
    {"p":"g","s":"CB","m":"F","x":0.0002,"y":0.0002},{"p":"g","s":"CB","m":"F","x":0.001,"y":0.0007},{"p":"g","s":"CB","m":"F","x":0.002,"y":0.0011},{"p":"g","s":"CB","m":"F","x":0.004,"y":0.0016},{"p":"g","s":"CB","m":"F","x":0.006,"y":0.002},{"p":"g","s":"CB","m":"F","x":0.01,"y":0.0025},{"p":"g","s":"CB","m":"F","x":0.0169,"y":0.0032},
    {"p":"g","s":"SB","m":"P","x":0.0093,"y":0.0107},{"p":"g","s":"SB","m":"P","x":0.0025,"y":0.0075},{"p":"g","s":"SB","m":"P","x":0.0011,"y":0.0056},{"p":"g","s":"SB","m":"P","x":0.0008,"y":0.0033},{"p":"g","s":"SB","m":"P","x":0.0004,"y":0.0015},{"p":"g","s":"SB","m":"P","x":0.0003,"y":0.0018},
    {"p":"g","s":"SB","m":"L","x":0.0001,"y":0.0003},{"p":"g","s":"SB","m":"L","x":0.0005,"y":0.0025},{"p":"g","s":"SB","m":"L","x":0.001,"y":0.0042},{"p":"g","s":"SB","m":"L","x":0.002,"y":0.0065},{"p":"g","s":"SB","m":"L","x":0.004,"y":0.0088},{"p":"g","s":"SB","m":"L","x":0.006,"y":0.01},{"p":"g","s":"SB","m":"L","x":0.008,"y":0.0107},{"p":"g","s":"SB","m":"L","x":0.0093,"y":0.011},
    {"p":"g","s":"SB","m":"F","x":0.0001,"y":0.0004},{"p":"g","s":"SB","m":"F","x":0.0005,"y":0.002},{"p":"g","s":"SB","m":"F","x":0.001,"y":0.0032},{"p":"g","s":"SB","m":"F","x":0.002,"y":0.005},{"p":"g","s":"SB","m":"F","x":0.004,"y":0.0072},{"p":"g","s":"SB","m":"F","x":0.006,"y":0.0089},{"p":"g","s":"SB","m":"F","x":0.008,"y":0.0104},{"p":"g","s":"SB","m":"F","x":0.0095,"y":0.0114},
    {"p":"g","s":"C3S7","m":"P","x":0.0127,"y":0.0073},{"p":"g","s":"C3S7","m":"P","x":0.0043,"y":0.0057},{"p":"g","s":"C3S7","m":"P","x":0.0027,"y":0.004},{"p":"g","s":"C3S7","m":"P","x":0.0012,"y":0.0028},{"p":"g","s":"C3S7","m":"P","x":0.0001,"y":0.0013},{"p":"g","s":"C3S7","m":"P","x":0.00005,"y":0.0006},{"p":"g","s":"C3S7","m":"P","x":0.0007,"y":0.0021},
    {"p":"g","s":"C3S7","m":"L","x":0.0001,"y":0.0004},{"p":"g","s":"C3S7","m":"L","x":0.0005,"y":0.0018},{"p":"g","s":"C3S7","m":"L","x":0.001,"y":0.0028},{"p":"g","s":"C3S7","m":"L","x":0.002,"y":0.004},{"p":"g","s":"C3S7","m":"L","x":0.004,"y":0.0055},{"p":"g","s":"C3S7","m":"L","x":0.006,"y":0.0062},{"p":"g","s":"C3S7","m":"L","x":0.009,"y":0.0069},{"p":"g","s":"C3S7","m":"L","x":0.0127,"y":0.0073},
    {"p":"g","s":"C3S7","m":"F","x":0.0001,"y":0.0005},{"p":"g","s":"C3S7","m":"F","x":0.0005,"y":0.0015},{"p":"g","s":"C3S7","m":"F","x":0.001,"y":0.0023},{"p":"g","s":"C3S7","m":"F","x":0.002,"y":0.0034},{"p":"g","s":"C3S7","m":"F","x":0.004,"y":0.0049},{"p":"g","s":"C3S7","m":"F","x":0.006,"y":0.0059},{"p":"g","s":"C3S7","m":"F","x":0.009,"y":0.0069},{"p":"g","s":"C3S7","m":"F","x":0.0127,"y":0.0078},
    {"p":"g","s":"C5S5","m":"P","x":0.0141,"y":0.006},{"p":"g","s":"C5S5","m":"P","x":0.0052,"y":0.0048},{"p":"g","s":"C5S5","m":"P","x":0.0028,"y":0.004},{"p":"g","s":"C5S5","m":"P","x":0.0015,"y":0.0026},{"p":"g","s":"C5S5","m":"P","x":0.0005,"y":0.0015},{"p":"g","s":"C5S5","m":"P","x":0.0003,"y":0.001},
    {"p":"g","s":"C5S5","m":"L","x":0.0001,"y":0.0003},{"p":"g","s":"C5S5","m":"L","x":0.0005,"y":0.0013},{"p":"g","s":"C5S5","m":"L","x":0.001,"y":0.0021},{"p":"g","s":"C5S5","m":"L","x":0.002,"y":0.0031},{"p":"g","s":"C5S5","m":"L","x":0.004,"y":0.0043},{"p":"g","s":"C5S5","m":"L","x":0.006,"y":0.005},{"p":"g","s":"C5S5","m":"L","x":0.009,"y":0.0056},{"p":"g","s":"C5S5","m":"L","x":0.0141,"y":0.0062},
    {"p":"g","s":"C5S5","m":"F","x":0.0001,"y":0.0003},{"p":"g","s":"C5S5","m":"F","x":0.0005,"y":0.0011},{"p":"g","s":"C5S5","m":"F","x":0.001,"y":0.0017},{"p":"g","s":"C5S5","m":"F","x":0.002,"y":0.0026},{"p":"g","s":"C5S5","m":"F","x":0.004,"y":0.0038},{"p":"g","s":"C5S5","m":"F","x":0.006,"y":0.0046},{"p":"g","s":"C5S5","m":"F","x":0.009,"y":0.0054},{"p":"g","s":"C5S5","m":"F","x":0.0141,"y":0.0065},
    {"p":"g","s":"C7S3","m":"P","x":0.0157,"y":0.0043},{"p":"g","s":"C7S3","m":"P","x":0.0062,"y":0.0037},{"p":"g","s":"C7S3","m":"P","x":0.0035,"y":0.0031},{"p":"g","s":"C7S3","m":"P","x":0.002,"y":0.002},{"p":"g","s":"C7S3","m":"P","x":0.0007,"y":0.0007},{"p":"g","s":"C7S3","m":"P","x":0.0005,"y":0.0002},
    {"p":"g","s":"C7S3","m":"L","x":0.0001,"y":0.0001},{"p":"g","s":"C7S3","m":"L","x":0.0005,"y":0.0006},{"p":"g","s":"C7S3","m":"L","x":0.001,"y":0.0011},{"p":"g","s":"C7S3","m":"L","x":0.002,"y":0.0018},{"p":"g","s":"C7S3","m":"L","x":0.004,"y":0.0027},{"p":"g","s":"C7S3","m":"L","x":0.006,"y":0.0033},{"p":"g","s":"C7S3","m":"L","x":0.01,"y":0.004},{"p":"g","s":"C7S3","m":"L","x":0.0157,"y":0.0045},
    {"p":"g","s":"C7S3","m":"F","x":0.0001,"y":0.0001},{"p":"g","s":"C7S3","m":"F","x":0.0005,"y":0.0005},{"p":"g","s":"C7S3","m":"F","x":0.001,"y":0.0009},{"p":"g","s":"C7S3","m":"F","x":0.002,"y":0.0015},{"p":"g","s":"C7S3","m":"F","x":0.004,"y":0.0024},{"p":"g","s":"C7S3","m":"F","x":0.006,"y":0.003},{"p":"g","s":"C7S3","m":"F","x":0.01,"y":0.0039},{"p":"g","s":"C7S3","m":"F","x":0.0157,"y":0.0048}
  ]},
  "concat": [
    {
      "title": "(a) Pb", "width": 155, "height": 126,
      "transform": [{"filter": "datum.p == 'a'"}],
      "encoding": {
        "x": {"field": "x", "type": "quantitative", "scale": {"domain": [0, 0.5], "nice": false}, "axis": {"values": [0, 0.1, 0.2, 0.3, 0.4, 0.5], "format": ".1f", "title": null}},
        "y": {"field": "y", "type": "quantitative", "scale": {"domain": [0, 0.62], "nice": false}, "axis": {"values": [0, 0.1, 0.2, 0.3, 0.4, 0.5, 0.6], "format": ".1f", "title": null}}
      },
      "layer": [
        {"transform": [{"filter": "datum.m != 'P'"}], "mark": {"type": "line", "interpolate": "monotone", "strokeWidth": 1},
         "encoding": {"stroke": {"field": "s", "type": "nominal", "scale": {"range": ["#1aa87a", "#c46ee8", "#e0a010", "#3c3c3c", "#f23c3c"]}, "legend": null},
                      "strokeDash": {"field": "m", "type": "nominal", "scale": {"domain": ["L", "F"], "range": [[1, 0], [5, 3]]}}}},
        {"transform": [{"filter": "datum.m == 'P'"}], "mark": {"type": "point", "filled": true, "size": 20, "opacity": 1},
         "encoding": {"color": {"field": "s", "type": "nominal", "scale": {"domain": ["CB", "SB", "C3S7", "C5S5", "C7S3"], "range": ["#3c3c3c", "#f23c3c", "#1aa87a", "#c46ee8", "#e0a010"]}},
                      "shape": {"field": "s", "type": "nominal", "scale": {"domain": ["CB", "SB", "C3S7", "C5S5", "C7S3"], "range": ["square", "circle", "triangle-down", "diamond", "triangle-left"]}}}}
      ]
    },
    {
      "title": "(b) Zn", "width": 155, "height": 126,
      "transform": [{"filter": "datum.p == 'b'"}],
      "encoding": {
        "x": {"field": "x", "type": "quantitative", "scale": {"domain": [0, 13], "nice": false}, "axis": {"values": [0, 2, 4, 6, 8, 10, 12], "format": "d", "title": null}},
        "y": {"field": "y", "type": "quantitative", "scale": {"domain": [0, 13], "nice": false}, "axis": {"values": [0, 2, 4, 6, 8, 10, 12], "format": "d", "title": null}}
      },
      "layer": [
        {"transform": [{"filter": "datum.m != 'P'"}], "mark": {"type": "line", "interpolate": "monotone", "strokeWidth": 1},
         "encoding": {"stroke": {"field": "s", "type": "nominal", "scale": {"range": ["#1aa87a", "#c46ee8", "#e0a010", "#3c3c3c", "#f23c3c"]}, "legend": null},
                      "strokeDash": {"field": "m", "type": "nominal", "scale": {"domain": ["L", "F"], "range": [[1, 0], [5, 3]]}}}},
        {"transform": [{"filter": "datum.m == 'P'"}], "mark": {"type": "point", "filled": true, "size": 20, "opacity": 1},
         "encoding": {"color": {"field": "s", "type": "nominal", "scale": {"domain": ["CB", "SB", "C3S7", "C5S5", "C7S3"], "range": ["#3c3c3c", "#f23c3c", "#1aa87a", "#c46ee8", "#e0a010"]}},
                      "shape": {"field": "s", "type": "nominal", "scale": {"domain": ["CB", "SB", "C3S7", "C5S5", "C7S3"], "range": ["square", "circle", "triangle-down", "diamond", "triangle-left"]}}}}
      ]
    },
    {
      "title": "(c) Ni", "width": 155, "height": 126,
      "transform": [{"filter": "datum.p == 'c'"}],
      "encoding": {
        "x": {"field": "x", "type": "quantitative", "scale": {"domain": [0, 0.75], "nice": false}, "axis": {"values": [0, 0.1, 0.2, 0.3, 0.4, 0.5, 0.6, 0.7], "format": ".1f", "title": null}},
        "y": {"field": "y", "type": "quantitative", "scale": {"domain": [0, 0.4], "nice": false}, "axis": {"values": [0, 0.05, 0.1, 0.15, 0.2, 0.25, 0.3, 0.35, 0.4], "format": ".2f", "title": null}}
      },
      "layer": [
        {"transform": [{"filter": "datum.m != 'P'"}], "mark": {"type": "line", "interpolate": "monotone", "strokeWidth": 1},
         "encoding": {"stroke": {"field": "s", "type": "nominal", "scale": {"range": ["#1aa87a", "#c46ee8", "#e0a010", "#3c3c3c", "#f23c3c"]}, "legend": null},
                      "strokeDash": {"field": "m", "type": "nominal", "scale": {"domain": ["L", "F"], "range": [[1, 0], [5, 3]]}}}},
        {"transform": [{"filter": "datum.m == 'P'"}], "mark": {"type": "point", "filled": true, "size": 20, "opacity": 1},
         "encoding": {"color": {"field": "s", "type": "nominal", "scale": {"domain": ["CB", "SB", "C3S7", "C5S5", "C7S3"], "range": ["#3c3c3c", "#f23c3c", "#1aa87a", "#c46ee8", "#e0a010"]}},
                      "shape": {"field": "s", "type": "nominal", "scale": {"domain": ["CB", "SB", "C3S7", "C5S5", "C7S3"], "range": ["square", "circle", "triangle-down", "diamond", "triangle-left"]}}}}
      ]
    },
    {
      "title": "(d) Cr", "width": 155, "height": 126,
      "transform": [{"filter": "datum.p == 'd'"}],
      "encoding": {
        "x": {"field": "x", "type": "quantitative", "scale": {"domain": [0, 1.12], "nice": false}, "axis": {"values": [0, 0.2, 0.4, 0.6, 0.8, 1.0], "format": ".1f", "title": null}},
        "y": {"field": "y", "type": "quantitative", "scale": {"domain": [0, 1.0], "nice": false}, "axis": {"values": [0, 0.2, 0.4, 0.6, 0.8, 1.0], "format": ".1f", "title": "Qₑ(mg g⁻¹)", "titleFontSize": 16, "titlePadding": 4}}
      },
      "layer": [
        {"transform": [{"filter": "datum.m != 'P'"}], "mark": {"type": "line", "interpolate": "monotone", "strokeWidth": 1},
         "encoding": {"stroke": {"field": "s", "type": "nominal", "scale": {"range": ["#1aa87a", "#c46ee8", "#e0a010", "#3c3c3c", "#f23c3c"]}, "legend": null},
                      "strokeDash": {"field": "m", "type": "nominal", "scale": {"domain": ["L", "F"], "range": [[1, 0], [5, 3]]}}}},
        {"transform": [{"filter": "datum.m == 'P'"}], "mark": {"type": "point", "filled": true, "size": 20, "opacity": 1},
         "encoding": {"color": {"field": "s", "type": "nominal", "scale": {"domain": ["CB", "SB", "C3S7", "C5S5", "C7S3"], "range": ["#3c3c3c", "#f23c3c", "#1aa87a", "#c46ee8", "#e0a010"]}},
                      "shape": {"field": "s", "type": "nominal", "scale": {"domain": ["CB", "SB", "C3S7", "C5S5", "C7S3"], "range": ["square", "circle", "triangle-down", "diamond", "triangle-left"]}}}}
      ]
    },
    {
      "title": "(e)Cu", "width": 155, "height": 126,
      "transform": [{"filter": "datum.p == 'e'"}],
      "encoding": {
        "x": {"field": "x", "type": "quantitative", "scale": {"domain": [0, 7.3], "nice": false}, "axis": {"values": [0, 1, 2, 3, 4, 5, 6, 7], "format": "d", "title": "Cₑ(mg L⁻¹)", "titleFontSize": 14, "titlePadding": 3}},
        "y": {"field": "y", "type": "quantitative", "scale": {"domain": [0, 4.4], "nice": false}, "axis": {"values": [0, 1, 2, 3, 4], "format": "d", "title": null}}
      },
      "layer": [
        {"transform": [{"filter": "datum.m != 'P'"}], "mark": {"type": "line", "interpolate": "monotone", "strokeWidth": 1},
         "encoding": {"stroke": {"field": "s", "type": "nominal", "scale": {"range": ["#1aa87a", "#c46ee8", "#e0a010", "#3c3c3c", "#f23c3c"]}, "legend": null},
                      "strokeDash": {"field": "m", "type": "nominal", "scale": {"domain": ["L", "F"], "range": [[1, 0], [5, 3]]}}}},
        {"transform": [{"filter": "datum.m == 'P'"}], "mark": {"type": "point", "filled": true, "size": 20, "opacity": 1},
         "encoding": {"color": {"field": "s", "type": "nominal", "scale": {"domain": ["CB", "SB", "C3S7", "C5S5", "C7S3"], "range": ["#3c3c3c", "#f23c3c", "#1aa87a", "#c46ee8", "#e0a010"]}},
                      "shape": {"field": "s", "type": "nominal", "scale": {"domain": ["CB", "SB", "C3S7", "C5S5", "C7S3"], "range": ["square", "circle", "triangle-down", "diamond", "triangle-left"]}}}}
      ]
    },
    {
      "title": "(f) As", "width": 155, "height": 126,
      "transform": [{"filter": "datum.p == 'f'"}],
      "encoding": {
        "x": {"field": "x", "type": "quantitative", "scale": {"domain": [0, 1.52], "nice": false}, "axis": {"values": [0, 0.2, 0.4, 0.6, 0.8, 1.0, 1.2, 1.4], "format": ".1f", "title": null}},
        "y": {"field": "y", "type": "quantitative", "scale": {"domain": [0, 0.89], "nice": false}, "axis": {"values": [0, 0.2, 0.4, 0.6, 0.8], "format": ".1f", "title": null}}
      },
      "layer": [
        {"transform": [{"filter": "datum.m != 'P'"}], "mark": {"type": "line", "interpolate": "monotone", "strokeWidth": 1},
         "encoding": {"stroke": {"field": "s", "type": "nominal", "scale": {"range": ["#1aa87a", "#c46ee8", "#e0a010", "#3c3c3c", "#f23c3c"]}, "legend": null},
                      "strokeDash": {"field": "m", "type": "nominal", "scale": {"domain": ["L", "F"], "range": [[1, 0], [5, 3]]}}}},
        {"transform": [{"filter": "datum.m == 'P'"}], "mark": {"type": "point", "filled": true, "size": 20, "opacity": 1},
         "encoding": {"color": {"field": "s", "type": "nominal", "scale": {"domain": ["CB", "SB", "C3S7", "C5S5", "C7S3"], "range": ["#3c3c3c", "#f23c3c", "#1aa87a", "#c46ee8", "#e0a010"]}},
                      "shape": {"field": "s", "type": "nominal", "scale": {"domain": ["CB", "SB", "C3S7", "C5S5", "C7S3"], "range": ["square", "circle", "triangle-down", "diamond", "triangle-left"]}}}}
      ]
    },
    {
      "title": "(g) Cd", "width": 155, "height": 126,
      "transform": [{"filter": "datum.p == 'g'"}],
      "encoding": {
        "x": {"field": "x", "type": "quantitative", "scale": {"domain": [0, 0.0172], "nice": false}, "axis": {"values": [0, 0.004, 0.008, 0.012, 0.016], "format": ".3f", "title": null}},
        "y": {"field": "y", "type": "quantitative", "scale": {"domain": [0, 0.012], "nice": false}, "axis": {"values": [0, 0.004, 0.008, 0.012], "format": ".3f", "title": null}}
      },
      "layer": [
        {"transform": [{"filter": "datum.m != 'P'"}], "mark": {"type": "line", "interpolate": "monotone", "strokeWidth": 1},
         "encoding": {"stroke": {"field": "s", "type": "nominal", "scale": {"range": ["#1aa87a", "#c46ee8", "#e0a010", "#3c3c3c", "#f23c3c"]}, "legend": null},
                      "strokeDash": {"field": "m", "type": "nominal", "scale": {"domain": ["L", "F"], "range": [[1, 0], [5, 3]]},
                        "legend": {"orient": "none", "legendX": 174, "legendY": 393, "title": null, "labelExpr": "datum.label == 'L' ? 'Langmuir model' : 'Freundlich model'", "symbolType": "M-2,0H2", "symbolSize": 196, "symbolStrokeColor": "#333333", "symbolStrokeWidth": 1.2, "labelOffset": 11, "labelFontSize": 13, "rowPadding": 2}}}},
        {"transform": [{"filter": "datum.m == 'P'"}], "mark": {"type": "point", "filled": true, "size": 20, "opacity": 1},
         "encoding": {"color": {"field": "s", "type": "nominal", "scale": {"domain": ["CB", "SB", "C3S7", "C5S5", "C7S3"], "range": ["#3c3c3c", "#f23c3c", "#1aa87a", "#c46ee8", "#e0a010"]},
                        "legend": {"orient": "none", "legendX": 177, "legendY": 316, "title": null, "symbolSize": 45, "labelOffset": 9, "labelFontSize": 13, "rowPadding": 1}},
                      "shape": {"field": "s", "type": "nominal", "scale": {"domain": ["CB", "SB", "C3S7", "C5S5", "C7S3"], "range": ["square", "circle", "triangle-down", "diamond", "triangle-left"]},
                        "legend": {"orient": "none", "legendX": 177, "legendY": 316, "title": null, "symbolSize": 45, "labelOffset": 9, "labelFontSize": 13, "rowPadding": 1}}}}
      ]
    }
  ]
}
